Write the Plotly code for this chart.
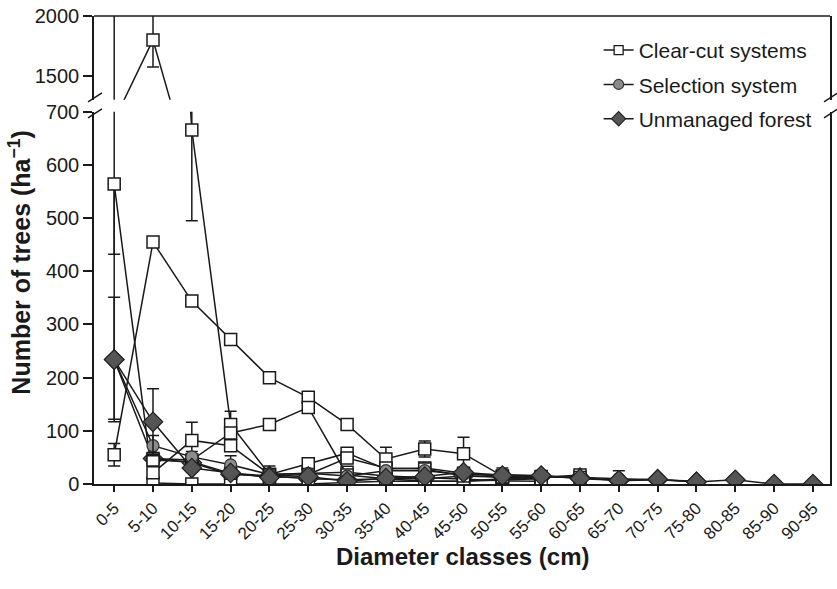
import plotly.graph_objects as go

categories = ["0-5", "5-10", "10-15", "15-20", "20-25", "25-30", "30-35", "35-40",
              "40-45", "45-50", "50-55", "55-60", "60-65", "65-70", "70-75",
              "75-80", "80-85", "85-90", "90-95"]
N = None

def pad(v):
    return v + [N] * (len(categories) - len(v))

# Clear-cut systems (several stands)
cc_a = pad([1128, 1800, 666, 112, 18, 20, 22, 15, 12, 8, 6, 5])
cc_a_err = pad([1006, 225, 171, 25])
cc_b = pad([55, 455, 344, 272, 200, 163, 112, 47, 66, 57, 15, 12, 17])
cc_b_err = pad([21, N, N, N, N, N, N, 22, 15, 31, N, N, 3])
cc_c = pad([564, 2, 0, 0, 0, 0, 3, 5, 5, 5, 10, 12])
cc_c_err_minus = pad([132])
cc_d = pad([N, 21, 82, 72, 18, 38, 58, 28, 30, 20, 14, 14, 12])
cc_d_err = pad([N, N, 34, N, 16])
cc_e = pad([N, 48, 45, 96, 112, 144, 17, 10, 5, 5, 8, 10])
cc_e_err = pad([N, 5])
cc_f = pad([N, 45, 42, 20, 15, 18, 49, 30, 28, 15, 12, 10])
cc_f_err = pad([])

# Selection system
sel = pad([234, 72, 51, 36, 18, 20, 15, 25, 25, 18, 18, 15, 12, 10, 8, 5])
sel_err = pad([N, 19, 10, 17, 5, N, N, N, 5, N, N, N, 3, 15])

# Unmanaged forest
un_a = [234, 117, 30, 21, 12, 14, 5, 11, 14, 22, 16, 16, 10, 7, 9, 4, 8, 0, 0]
un_a_err = [117, 62, 8, 8, N, 5, 3, N, N, 5, 14, 5, 5, N, 3, N, N, N, N]
un_b = pad([234, 48, 40, 18, 15, 10, 8, 10, 10, 15, 14, 14, 12, 6, 8, 4])
un_b_err = pad([])

# (group, values, error plus, error minus, symbol) in drawing order
series = [
    ("un", un_b, un_b_err, un_b_err, "diamond"),
    ("cc", cc_a, cc_a_err, cc_a_err, "square"),
    ("cc", cc_b, cc_b_err, cc_b_err, "square"),
    ("cc", cc_c, pad([]), cc_c_err_minus, "square"),
    ("cc", cc_d, cc_d_err, cc_d_err, "square"),
    ("cc", cc_e, cc_e_err, cc_e_err, "square"),
    ("cc", cc_f, cc_f_err, cc_f_err, "square"),
    ("sel", sel, sel_err, sel_err, "circle"),
    ("un", un_a, un_a_err, un_a_err, "diamond"),
]
legend_items = [("cc", "Clear-cut systems", "square"),
                ("sel", "Selection system", "circle"),
                ("un", "Unmanaged forest", "diamond")]

INK = "#1a1a1a"
marker_style = {
    "square": dict(symbol="square", size=12, color="white", line=dict(color=INK, width=1.5)),
    "circle": dict(symbol="circle", size=12, color="#8c8c8c", line=dict(color="#333333", width=1.2)),
    "diamond": dict(symbol="diamond", size=15, color="#555555", line=dict(color="#222222", width=1.2)),
}
legend_marker = {
    "square": dict(symbol="square", size=9, color="white", line=dict(color=INK, width=1.3)),
    "circle": dict(symbol="circle", size=10, color="#8c8c8c", line=dict(color="#333333", width=1.1)),
    "diamond": dict(symbol="diamond", size=11, color="#555555", line=dict(color="#222222", width=1.1)),
}

xs = list(range(len(categories)))
fig = go.Figure()
for grp, vals, ep, em, sym in series:
    for ax in ["y", "y2"]:
        fig.add_trace(go.Scatter(
            x=xs, y=vals, yaxis=ax, mode="lines+markers",
            legendgroup=grp, showlegend=False,
            line=dict(color=INK, width=1.5),
            marker=marker_style[sym],
            error_y=dict(type="data", symmetric=False, array=ep, arrayminus=em,
                         visible=True, color=INK, thickness=1.5, width=6),
        ))
for grp, name, sym in legend_items:
    fig.add_trace(go.Scatter(
        x=[N], y=[N], mode="lines+markers", name=name, legendgroup=grp,
        showlegend=True, line=dict(color=INK, width=1.5), marker=legend_marker[sym],
    ))

L, R, T, B = 94, 5, 15, 105
W, H = 837, 589
pw, ph = W - L - R, H - T - B
px = lambda x: (x - L) / pw
py = lambda y: (H - B - y) / ph

font = "Liberation Sans, Arial, Helvetica, sans-serif"
shapes = [dict(type="line", xref="paper", yref="paper", x0=0, x1=1, y0=1, y1=1,
               line=dict(color=INK, width=1.5))]
for xa, xb in [(88, 102), (826, 840)]:
    for ya, yb in [(101, 92), (117, 108)]:
        shapes.append(dict(type="line", xref="paper", yref="paper",
                           x0=px(xa), x1=px(xb), y0=py(ya), y1=py(yb),
                           line=dict(color=INK, width=1.5)))

axis_common = dict(showline=True, linecolor=INK, linewidth=1.5, ticks="outside",
                   tickwidth=1.5, tickcolor=INK, showgrid=False, zeroline=False)
fig.update_layout(
    width=W, height=H, margin=dict(l=L, r=R, t=T, b=B),
    paper_bgcolor="white", plot_bgcolor="white",
    font=dict(family=font, color=INK, size=18),
    xaxis=dict(range=[-0.52, 18.44], tickvals=xs, ticktext=categories, tickangle=-45,
               ticklen=6, tickfont=dict(size=17), **axis_common),
    yaxis=dict(domain=[0, py(111)], range=[0, 700], tickvals=list(range(0, 701, 100)),
               mirror=True, ticklen=9, tickfont=dict(size=20), **axis_common),
    yaxis2=dict(domain=[py(99), 1], range=[1300, 2000], tickvals=[1500, 2000],
                anchor="x", mirror=True, ticklen=9, tickfont=dict(size=20), **axis_common),
    legend=dict(x=px(600), y=py(29), xanchor="left", yanchor="top",
                bgcolor="rgba(0,0,0,0)", font=dict(size=21), tracegroupgap=4),
    shapes=shapes,
    annotations=[
        dict(text="<b>Number of trees (ha<sup>\u22121</sup>)</b>", xref="paper", yref="paper",
             x=px(20), y=py(262), textangle=-90, showarrow=False,
             font=dict(size=25), xanchor="center", yanchor="middle"),
        dict(text="<b>Diameter classes (cm)</b>", xref="paper", yref="paper",
             x=px(464), y=py(557), showarrow=False, font=dict(size=24),
             xanchor="center", yanchor="middle"),
    ],
)

fig.write_html("out.html")
